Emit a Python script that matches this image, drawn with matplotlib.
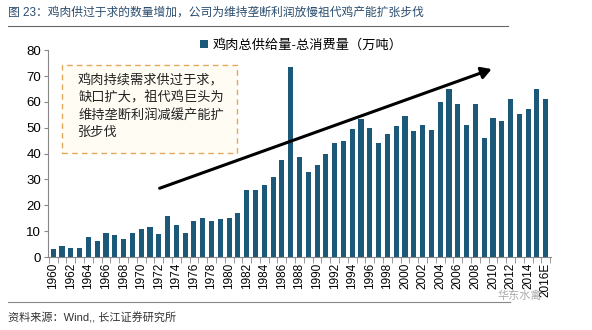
import numpy as np
import matplotlib.pyplot as plt
from matplotlib.patches import Rectangle, FancyArrowPatch
from matplotlib.lines import Line2D

plt.rcParams['font.family'] = ['Liberation Sans', 'Noto Sans CJK SC']

# 鸡肉总供给量-总消费量（万吨）
years = [str(y) for y in range(1960, 2016)] + ['2016E']
gap = [3.0, 4.3, 3.6, 3.6, 7.6, 6.1, 9.4, 8.6, 7.0, 9.3,
       10.7, 11.7, 9.0, 15.9, 12.5, 9.4, 13.9, 15.1, 14.1, 14.8,
       15.1, 17.0, 26.1, 26.1, 27.7, 31.0, 37.4, 73.3, 38.7, 32.9,
       35.5, 39.7, 44.1, 45.0, 49.7, 53.4, 49.9, 44.1, 47.5, 50.6,
       54.6, 48.9, 51.0, 49.2, 60.0, 64.8, 59.0, 51.0, 59.0, 46.1,
       53.8, 52.5, 61.2, 55.2, 57.3, 64.8, 61.3]

title = '图 23：鸡肉供过于求的数量增加，公司为维持垄断利润放慢祖代鸡产能扩张步伐'
source = '资料来源：Wind,, 长江证券研究所'
series_name = '鸡肉总供给量-总消费量（万吨）'
note = '鸡肉持续需求供过于求，\n缺口扩大，祖代鸡巨头为\n维持垄断利润减缓产能扩\n张步伐'

bar_color = '#1C5878'

fig = plt.figure(figsize=(5.92, 3.30), dpi=100)
ax = fig.add_axes([0.081, 0.221, 0.849, 0.627])

x = np.arange(len(years))
ax.bar(x, gap, width=0.58, color=bar_color, label=series_name, zorder=2)

ax.set_xlim(-0.6, len(years) - 0.45)
ax.set_ylim(0, 80)
ax.set_yticks(range(0, 81, 10))
ax.tick_params(axis='y', labelsize=9.5, length=3, color='#888888', pad=2)

ax.set_xticks(x[::2])
ax.set_xticklabels(years[::2], rotation=90, fontsize=8.5)
ax.set_xticks(np.arange(-0.5, len(years), 1), minor=True)
ax.tick_params(axis='x', which='major', length=0, pad=4)
ax.tick_params(axis='x', which='minor', length=4, color='#888888')

for s in ['top', 'right']:
    ax.spines[s].set_visible(False)
for s in ['left', 'bottom']:
    ax.spines[s].set_color('#888888')
    ax.spines[s].set_linewidth(0.8)

leg = ax.legend(loc='lower left', bbox_to_anchor=(0.29, 0.96), frameon=False,
                fontsize=9.5, handlelength=0.6, handleheight=0.6,
                handletextpad=0.3, borderpad=0)

# annotation box
ax.add_patch(Rectangle((0.028, 0.502), 0.348, 0.426, transform=ax.transAxes,
                       facecolor='#FFFCF4', edgecolor='#E3A85A', linestyle=(0, (4, 3)),
                       linewidth=1.0, zorder=3))
ax.text(0.06, 0.885, note, transform=ax.transAxes, fontsize=9.5, va='top',
        ha='left', linespacing=1.45, color='#222222', zorder=4)

# trend arrow
ax.add_patch(FancyArrowPatch((0.217, 0.328), (0.888, 0.913), transform=ax.transAxes,
                             arrowstyle='-|>,head_length=6,head_width=3.5',
                             color='black', linewidth=2.2, zorder=5))

# title, rules, source
fig.text(0.014, 0.962, title, fontsize=8.5, color='#2A4D6E', va='center')
fig.add_artist(Line2D([0.014, 0.858], [0.921, 0.921], color='#666666', linewidth=0.8))
fig.add_artist(Line2D([0.014, 0.862], [0.085, 0.085], color='#888888', linewidth=0.8))
fig.text(0.014, 0.038, source, fontsize=8, color='#333333', va='center')
fig.text(0.878, 0.104, '华东水禽', fontsize=8, color='#AAAAAA', ha='center', va='center')

fig.savefig('out.png', dpi=100)
